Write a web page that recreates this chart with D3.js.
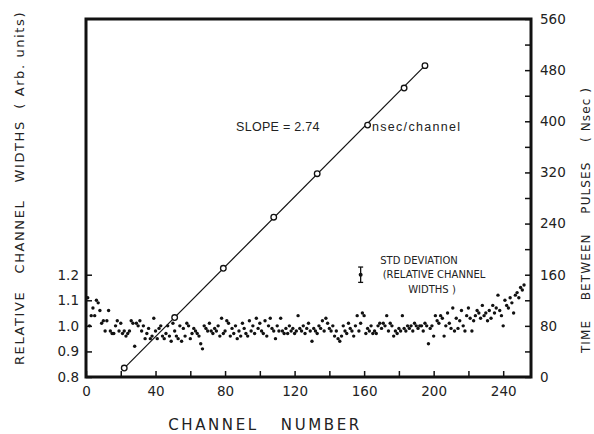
<!DOCTYPE html>
<html>
<head>
<meta charset="utf-8">
<script src="https://cdn.jsdelivr.net/npm/d3@7"></script>
<style>
  body { margin: 0; background: #fff; }
  svg text { font-family: "DejaVu Sans", sans-serif; fill: #222; white-space: pre; }
</style>
</head>
<body>
<div id="chart"></div>
<script>
// calibration points (time between pulses vs channel)
const calChannels = [22, 51, 79, 108, 133, 162, 183, 195];
const calTimes = [14, 93, 170, 250, 318, 394, 452, 487];

// relative channel widths, channel 1..252
const widthChannelStart = 1;
const widths = [
  1.11, 1.00, 1.04, 1.07, 1.04, 1.10, 1.09, 1.06, 1.01, 1.02, 0.98, 1.02,
  1.06, 0.98, 0.97, 0.97, 1.00, 1.02, 0.98, 1.01, 0.97, 0.98, 0.96, 0.97,
  0.98, 1.02, 1.01, 0.92, 1.01, 1.00, 1.02, 0.98, 1.00, 0.95, 0.97, 0.99,
  0.95, 0.96, 1.03, 0.98, 0.95, 0.99, 1.00, 0.96, 0.95, 0.97, 1.00, 0.96,
  0.94, 1.01, 0.98, 0.96, 0.95, 1.00, 0.94, 0.99, 0.96, 1.01, 1.00, 0.95,
  0.97, 0.99, 0.98, 0.97, 0.96, 0.93, 0.91, 1.00, 0.99, 0.98, 1.01, 0.98,
  0.97, 0.99, 0.98, 1.00, 0.96, 1.03, 0.97, 0.98, 1.02, 1.01, 0.96, 0.99,
  0.97, 1.00, 0.95, 0.98, 0.96, 1.01, 0.99, 0.97, 0.96, 1.02, 0.98, 1.00,
  0.97, 1.03, 0.99, 1.01, 0.98, 0.97, 1.02, 0.96, 1.00, 1.03, 0.99, 0.98,
  0.95, 1.00, 0.98, 1.03, 0.98, 0.97, 0.99, 0.97, 1.00, 0.98, 0.99, 0.97,
  0.98, 1.04, 0.99, 0.98, 1.00, 0.97, 0.99, 1.01, 0.98, 0.94, 0.99, 0.98,
  0.97, 1.00, 0.99, 1.02, 0.98, 1.03, 1.01, 0.99, 0.98, 1.00, 0.96, 0.98,
  0.95, 0.94, 0.96, 1.00, 0.98, 0.97, 1.01, 0.99, 0.98, 0.96, 1.00, 1.04,
  0.98, 1.01, 1.05, 1.04, 0.97, 0.99, 0.98, 1.00, 0.97, 0.98, 0.97, 1.00,
  1.01, 0.99, 1.01, 1.00, 1.04, 0.98, 1.01, 1.00, 0.96, 0.98, 0.97, 0.99,
  0.98, 1.04, 0.99, 0.98, 1.00, 0.99, 1.00, 0.98, 1.01, 1.00, 0.99, 1.00,
  1.00, 0.98, 1.01, 1.00, 0.93, 0.99, 1.00, 0.96, 1.04, 1.02, 1.01, 1.04,
  1.03, 0.96, 1.00, 1.05, 1.01, 0.99, 1.07, 0.98, 1.03, 0.99, 1.02, 1.06,
  1.00, 0.98, 1.04, 1.07, 1.03, 0.98, 1.02, 1.04, 1.06, 1.05, 1.03, 1.08,
  1.04, 1.05, 1.02, 1.06, 1.03, 1.08, 1.05, 1.07, 1.12, 1.06, 1.04, 1.00,
  1.10, 1.08, 1.07, 1.11, 1.09, 1.05, 1.12, 1.13, 1.11, 1.15, 1.14, 1.16
];

// std deviation marker
const stdChannel = 158;
const stdValue = 1.2;
const stdDev = 0.03;

const xTicks = d3.range(0, 257, 20);
const xLabels = [0, 40, 80, 120, 160, 200, 240];
const leftTicks = [0.8, 0.9, 1.0, 1.1, 1.2];
const rightTicks = d3.range(0, 561, 40);
const rightLabels = [0, 80, 160, 240, 320, 400, 480, 560];

const W = 594, H = 434;
const margin = {top: 19, right: 63, bottom: 57, left: 86};

const svg = d3.select('#chart').append('svg')
  .attr('width', W)
  .attr('height', H);

const x = d3.scaleLinear().domain([0, 256]).range([margin.left, W - margin.right]);
const yL = d3.scaleLinear().domain([0.8, 2.2]).range([H - margin.bottom, margin.top]);
const yR = d3.scaleLinear().domain([0, 560]).range([H - margin.bottom, margin.top]);

// axes, ticks pointing inward
const xAxis = d3.axisBottom(x).tickValues(xTicks).tickSizeInner(-6).tickSizeOuter(0).tickPadding(9)
  .tickFormat(d => xLabels.includes(d) ? d : '');
const gx = svg.append('g').attr('transform', `translate(0,${H - margin.bottom})`).call(xAxis);

const lAxis = d3.axisLeft(yL).tickValues(leftTicks).tickSizeInner(-6).tickSizeOuter(0).tickPadding(7)
  .tickFormat(d3.format('.1f'));
const gl = svg.append('g').attr('transform', `translate(${margin.left},0)`).call(lAxis);

const rAxis = d3.axisRight(yR).tickValues(rightTicks).tickSizeInner(-6).tickSizeOuter(0).tickPadding(9)
  .tickFormat(d => rightLabels.includes(d) ? d : '');
const gr = svg.append('g').attr('transform', `translate(${W - margin.right},0)`).call(rAxis);

[gx, gl, gr].forEach(g => {
  g.select('.domain').remove();
  g.selectAll('.tick line').attr('stroke', '#111').attr('stroke-width', 1.5);
  g.selectAll('.tick text').style('font-size', '13.5px').attr('fill', '#222');
});

// frame
svg.append('rect')
  .attr('x', x(0)).attr('y', yR(560))
  .attr('width', x(256) - x(0)).attr('height', yR(0) - yR(560))
  .attr('fill', 'none').attr('stroke', '#111').attr('stroke-width', 3);

// scatter of relative widths
svg.append('g').selectAll('circle')
  .data(widths)
  .join('circle')
  .attr('cx', (d, i) => x(widthChannelStart + i))
  .attr('cy', d => yL(d))
  .attr('r', 1.7)
  .attr('fill', '#111');

// calibration line and points
const cal = calChannels.map((c, i) => ({c, t: calTimes[i]}));
svg.append('path')
  .datum([cal[0], cal[cal.length - 1]])
  .attr('d', d3.line().x(d => x(d.c)).y(d => yR(d.t)))
  .attr('fill', 'none').attr('stroke', '#111').attr('stroke-width', 1.2);

svg.append('g').selectAll('circle')
  .data(cal)
  .join('circle')
  .attr('cx', d => x(d.c))
  .attr('cy', d => yR(d.t))
  .attr('r', 2.8)
  .attr('fill', '#fff').attr('stroke', '#111').attr('stroke-width', 1.3);

// std deviation bar
const ex = x(stdChannel);
const eb = svg.append('g').attr('stroke', '#111').attr('stroke-width', 1.3);
eb.append('line').attr('x1', ex).attr('x2', ex).attr('y1', yL(stdValue - stdDev)).attr('y2', yL(stdValue + stdDev));
eb.append('line').attr('x1', ex - 2.5).attr('x2', ex + 2.5).attr('y1', yL(stdValue - stdDev)).attr('y2', yL(stdValue - stdDev));
eb.append('line').attr('x1', ex - 2.5).attr('x2', ex + 2.5).attr('y1', yL(stdValue + stdDev)).attr('y2', yL(stdValue + stdDev));
svg.append('circle').attr('cx', ex).attr('cy', yL(stdValue)).attr('r', 2).attr('fill', '#111');

const note = svg.append('g').style('font-size', '10px').attr('text-anchor', 'middle');
note.append('text').attr('x', 419).attr('y', 264).text('STD DEVIATION').attr('fill', '#555');
note.append('text').attr('x', 434).attr('y', 278).text('(RELATIVE CHANNEL').attr('fill', '#555');
note.append('text').attr('x', 432).attr('y', 293).text('WIDTHS )').attr('fill', '#555');

// slope annotation
svg.append('text').attr('x', 236).attr('y', 131)
  .style('font-family', '"Liberation Sans", sans-serif').style('font-size', '12.5px').style('letter-spacing', '0.3px')
  .text('SLOPE = 2.74');
svg.append('text').attr('x', 372).attr('y', 131)
  .style('font-family', '"Liberation Sans", sans-serif').style('font-size', '12.5px').style('letter-spacing', '1.3px')
  .text('nsec/channel');

// axis titles
svg.append('text')
  .attr('transform', `translate(24,188) rotate(-90)`)
  .attr('text-anchor', 'middle')
  .style('font-size', '13px').style('letter-spacing', '1.6px')
  .text('RELATIVE   CHANNEL   WIDTHS  ( Arb. units)');

svg.append('text')
  .attr('transform', `translate(590,220) rotate(-90)`)
  .attr('text-anchor', 'middle')
  .style('font-size', '12px').style('letter-spacing', '1.1px')
  .text('TIME    BETWEEN    PULSES    ( Nsec )');

svg.append('text')
  .attr('x', 265).attr('y', 430)
  .attr('text-anchor', 'middle')
  .style('font-size', '15px').style('letter-spacing', '2.6px')
  .text('CHANNEL   NUMBER');
</script>
</body>
</html>
